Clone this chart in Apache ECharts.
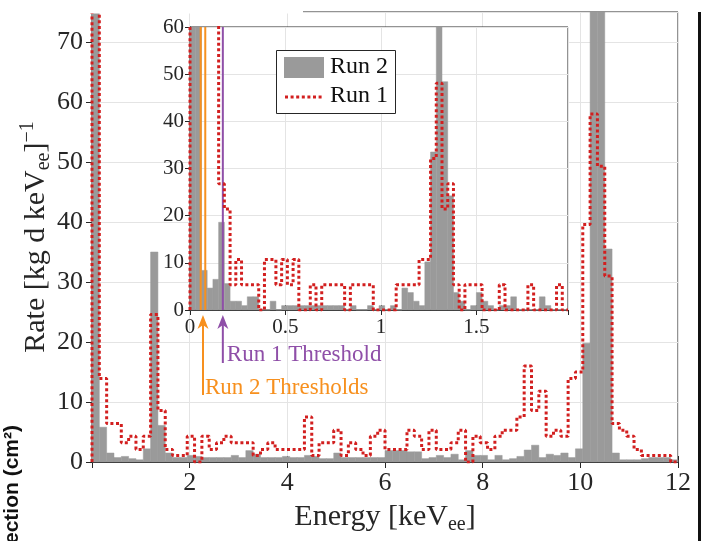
<!DOCTYPE html>
<html><head><meta charset="utf-8">
<script src="https://cdn.jsdelivr.net/npm/echarts@6/dist/echarts.min.js"></script>
<style>html,body{margin:0;padding:0;background:#fff}#c{width:702px;height:541px}</style>
</head><body><div id="c"></div>
<script>
// ---------- data ----------
const mainBinWidth = 0.15;   // keV, main histogram bins (0 .. 12)
const mainRun2 = [
  150, 5.8, 1.5, 0.74, 0.93, 0.56, 0.37, 2.2, 35, 6.1,
  1.5, 0.75, 0.75, 1.1, 0.93, 0.74, 0.74, 0.74, 0.74, 1.1,
  0.74, 1.9, 1.3, 0.74, 0.74, 0.74, 0.93, 0.74, 0.74, 1.1,
  0.93, 0.56, 0.56, 1.5, 0.74, 0.74, 0.74, 0.74, 0.74, 0.74,
  1.9, 1.9, 1.9, 1.7, 1.7, 0.56, 0.74, 1.1, 0.74, 1.3,
  0.37, 1.9, 1.1, 1.1, 0.37, 1.1, 0.37, 0.56, 0.93, 2.0,
  2.8, 0.74, 1.3, 1.1, 1.5, 0.74, 2.2, 19.8, 160, 140,
  35.5, 1.5, 0.37, 0.37, 0.37, 0.56, 0.74, 0.74, 0.74, 0.37
];
const mainRun1 = [
  200, 13.9, 6.4, 6.4, 3.2, 4.3, 2.1, 4.3, 24.6, 8.6,
  2.1, 1.1, 1.1, 4.3, 0, 4.3, 2.1, 3.2, 4.3, 3.2,
  3.2, 3.2, 1.1, 2.1, 3.2, 2.1, 2.1, 2.1, 2.1, 7.5,
  1.1, 3.2, 3.2, 5.3, 1.1, 3.2, 2.1, 1.1, 4.3, 5.3,
  2.1, 2.1, 2.1, 5.3, 4.3, 2.1, 5.3, 2.1, 2.1, 3.2,
  5.3, 0, 4.3, 3.2, 2.1, 4.3, 5.3, 5.3, 7.5, 16.0,
  8.6, 11.8, 4.3, 5.3, 4.3, 13.9, 15.0, 39.6, 58.0, 49.3,
  31.0, 6.4, 5.3, 4.3, 2.1, 1.1, 1.1, 1.1, 1.1, 0
];
const insetBinWidth = 0.03;  // keV, inset histogram bins (0 .. 1.98)
const insetRun2 = [
  150, 120, 8.4, 4.65, 6.5, 18.6, 5.6, 1.86, 1.86, 0.93,
  2.8, 2.8, 0, 0, 1.86, 0, 0.93, 0.93, 0.93, 0.93,
  0.93, 0.93, 0.93, 0.93, 0.93, 0.93, 0.93, 0, 0.93, 0,
  0, 0.93, 0, 0.93, 0, 0.93, 0, 4.65, 3.7, 1.86,
  0.93, 10.2, 33.5, 82, 48.4, 24.2, 3.7, 1.86, 0, 0.93,
  3.7, 1.86, 0.93, 0, 0.93, 0.93, 2.8, 0, 0, 0,
  0, 2.8, 0.93, 0, 0, 0
];
const insetRun1 = [
  90, 90, 90, 90, 90, 26.75, 21.4, 5.35, 10.7, 5.35,
  5.35, 5.35, 0, 10.7, 10.7, 5.35, 10.7, 5.35, 10.7, 0,
  0, 5.35, 0, 5.35, 5.35, 5.35, 5.35, 0, 5.35, 5.35,
  5.35, 5.35, 0, 0, 0, 0, 5.35, 5.35, 5.35, 5.35,
  10.7, 10.7, 32.1, 48.1, 21.4, 26.75, 5.35, 0, 5.35, 5.35,
  5.35, 0, 0, 0, 5.35, 0, 0, 0, 0, 5.35,
  0, 0, 0, 0, 5.35, 0
];
const run2Thresholds = [0.056, 0.080];
const run1Threshold = [0.172];
const legendLabels = ['Run 2', 'Run 1'];
const annotationLabels = ['Run 1 Threshold', 'Run 2 Thresholds'];

// ---------- style ----------
const SERIF = "'Liberation Serif', 'DejaVu Serif', serif";
const AX = '#262626';
const GRID = '#e4e4e4';
const GRAY = '#9a9a9a';
const RED = '#d21f1f';
const ORANGE = '#f7901e';
const PURPLE = '#8f4fa8';

function binRects(vals, w) { return vals.map((v, k) => [k * w, (k + 1) * w, v]); }
function stairs(vals, w) {
  const pts = [[0, 0]];
  vals.forEach((v, k) => { pts.push([k * w, v]); pts.push([(k + 1) * w, v]); });
  pts.push([vals.length * w, 0]);
  return pts;
}
function barItem(params, api) {
  const p0 = api.coord([api.value(0), 0]);
  const p1 = api.coord([api.value(1), api.value(2)]);
  const cs = params.coordSys;
  const r = echarts.graphic.clipRectByRect(
    { x: p0[0], y: p1[1], width: p1[0] - p0[0], height: p0[1] - p1[1] },
    { x: cs.x, y: cs.y, width: cs.width, height: cs.height });
  if (!r) return null;
  return { type: 'rect', shape: r, style: { fill: GRAY, stroke: GRAY, lineWidth: 0.5 } };
}

const chart = echarts.init(document.getElementById('c'), null, { renderer: 'canvas' });

function valAxis(o) {
  return Object.assign({
    type: 'value',
    axisLine: { show: true, lineStyle: { color: AX, width: 1 } },
    axisTick: { show: true, inside: true, length: 6, lineStyle: { color: AX } },
    splitLine: { show: false },
    axisLabel: { show: false }
  }, o);
}

const option = {
  animation: false,
  backgroundColor: '#ffffff',
  grid: [
    { left: 92, top: 12, right: 24, bottom: 79, show: true, borderColor: AX, borderWidth: 1, backgroundColor: 'transparent' },
    { left: 190, top: 27, right: 134, bottom: 231, show: true, borderColor: AX, borderWidth: 1, backgroundColor: '#ffffff', z: 10 }
  ],
  xAxis: [
    valAxis({ gridIndex: 0, min: 0, max: 12, interval: 2, position: 'bottom',
      splitLine: { show: true, lineStyle: { color: GRID } },
      axisLabel: { show: true, showMinLabel: false, fontFamily: SERIF, fontSize: 26, color: AX, margin: 8 },
      name: '{t|Energy [keV}{s|ee}{t|]}', nameLocation: 'middle', nameGap: 37,
      nameTextStyle: { color: AX, fontFamily: SERIF, fontSize: 30,
        rich: { t: { fontFamily: SERIF, fontSize: 30, lineHeight: 36, color: AX },
                s: { fontFamily: SERIF, fontSize: 20, lineHeight: 20, verticalAlign: 'bottom', color: AX } } } }),
    valAxis({ gridIndex: 0, min: 0, max: 12, interval: 2, position: 'top' }),
    valAxis({ gridIndex: 1, min: 0, max: 1.98, interval: 0.5, position: 'bottom', z: 11,
      axisTick: { show: true, inside: true, length: 5, lineStyle: { color: AX } },
      splitLine: { show: true, lineStyle: { color: GRID } },
      axisLabel: { show: true, showMaxLabel: false, fontFamily: SERIF, fontSize: 21, color: AX, margin: 7 } }),
    valAxis({ gridIndex: 1, min: 0, max: 1.98, interval: 0.5, position: 'top', z: 11,
      axisTick: { show: true, inside: true, length: 5, lineStyle: { color: AX } } })
  ],
  yAxis: [
    valAxis({ gridIndex: 0, min: 0, max: 75, interval: 10, position: 'left',
      splitLine: { show: true, lineStyle: { color: GRID } },
      axisLabel: { show: true, showMaxLabel: false, fontFamily: SERIF, fontSize: 26, color: AX, margin: 9 },
      name: '{t|Rate [kg d keV}{s|ee}{t|]}{p|\u22121}', nameLocation: 'middle', nameGap: 38,
      nameMoveOverlap: false,
      nameTextStyle: { color: AX, fontFamily: SERIF, fontSize: 30,
        rich: { t: { fontFamily: SERIF, fontSize: 30, lineHeight: 36, color: AX },
                s: { fontFamily: SERIF, fontSize: 20, lineHeight: 20, verticalAlign: 'bottom', color: AX },
                p: { fontFamily: SERIF, fontSize: 20, lineHeight: 20, verticalAlign: 'top', color: AX } } } }),
    valAxis({ gridIndex: 0, min: 0, max: 75, interval: 10, position: 'right' }),
    valAxis({ gridIndex: 1, min: 0, max: 60, interval: 10, position: 'left', z: 11,
      axisTick: { show: true, inside: true, length: 5, lineStyle: { color: AX } },
      splitLine: { show: true, lineStyle: { color: GRID } },
      axisLabel: { show: true, fontFamily: SERIF, fontSize: 21, color: AX, margin: 6 } }),
    valAxis({ gridIndex: 1, min: 0, max: 60, interval: 10, position: 'right', z: 11,
      axisTick: { show: true, inside: true, length: 5, lineStyle: { color: AX } } })
  ],
  series: [
    { type: 'custom', name: 'Run 2', xAxisIndex: 0, yAxisIndex: 0, z: 2,
      renderItem: barItem, encode: { x: [0, 1], y: 2 }, data: binRects(mainRun2, mainBinWidth) },
    { type: 'line', name: 'Run 1', xAxisIndex: 0, yAxisIndex: 0, z: 3, clip: true,
      showSymbol: false, symbol: 'none',
      lineStyle: { color: RED, width: 3, type: [3, 2.6], cap: 'butt' },
      data: stairs(mainRun1, mainBinWidth) },
    { type: 'custom', name: 'Run 2 inset', xAxisIndex: 2, yAxisIndex: 2, z: 12,
      renderItem: barItem, encode: { x: [0, 1], y: 2 }, data: binRects(insetRun2, insetBinWidth) },
    { type: 'custom', name: 'thresholds', xAxisIndex: 2, yAxisIndex: 2, z: 13,
      data: run2Thresholds.map(v => [v, 0]).concat(run1Threshold.map(v => [v, 1])),
      encode: { x: 0 },
      renderItem: function (params, api) {
        const cs = params.coordSys;
        const x = api.coord([api.value(0), 0])[0];
        return { type: 'line', shape: { x1: x, y1: cs.y + cs.height, x2: x, y2: cs.y },
          style: { stroke: api.value(1) === 1 ? PURPLE : ORANGE, lineWidth: 2 } };
      } },
    { type: 'line', name: 'Run 1 inset', xAxisIndex: 2, yAxisIndex: 2, z: 14, clip: true,
      showSymbol: false, symbol: 'none',
      lineStyle: { color: RED, width: 3, type: [3, 2.6], cap: 'butt' },
      data: stairs(insetRun1, insetBinWidth) }
  ]
};
chart.setOption(option);

// annotations placed from the inset's own x scale
const px = v => chart.convertToPixel({ xAxisIndex: 2 }, v);
const xo = (px(run2Thresholds[0]) + px(run2Thresholds[1])) / 2;
const xp = px(run1Threshold[0]);
function arrow(x, yBottom, color) {
  const tip = 315;
  return [
    { type: 'line', z: 40, shape: { x1: x, y1: yBottom, x2: x, y2: tip + 9 }, style: { stroke: color, lineWidth: 2 } },
    { type: 'polygon', z: 40, shape: { points: [[x, tip], [x - 5.5, tip + 14], [x, tip + 10], [x + 5.5, tip + 14]] }, style: { fill: color } }
  ];
}
chart.setOption({
  graphic: [
    // the reference frame's top edge is cropped on the left part
    { type: 'rect', z: 39, shape: { x: 86, y: 0, width: 217, height: 13.6 }, style: { fill: '#fff' } },
    // legend
    { type: 'rect', z: 40, shape: { x: 276.5, y: 50.5, width: 119, height: 63 }, style: { fill: '#fff', stroke: AX, lineWidth: 1 } },
    { type: 'rect', z: 41, shape: { x: 284, y: 57, width: 40, height: 21 }, style: { fill: GRAY } },
    { type: 'text', z: 41, x: 330, y: 67, style: { text: legendLabels[0], font: '24px ' + SERIF, fill: '#111', verticalAlign: 'middle' } },
    { type: 'line', z: 41, shape: { x1: 285, y1: 97, x2: 324, y2: 97 }, style: { stroke: RED, lineWidth: 3, lineDash: [3, 2.6] } },
    { type: 'text', z: 41, x: 330, y: 96, style: { text: legendLabels[1], font: '24px ' + SERIF, fill: '#111', verticalAlign: 'middle' } },
    // arrows + labels
    ...arrow(xo, 395, ORANGE),
    ...arrow(xp, 363, PURPLE),
    { type: 'text', z: 41, x: xp + 4, y: 355, style: { text: annotationLabels[0], font: '23px ' + SERIF, fill: PURPLE, verticalAlign: 'middle' } },
    { type: 'text', z: 41, x: xo + 2, y: 388, style: { text: annotationLabels[1], font: '23px ' + SERIF, fill: ORANGE, verticalAlign: 'middle' } },
    // neighbouring panel remnants
    { type: 'text', z: 41, x: 12, y: 425, rotation: Math.PI / 2,
      style: { text: 'ection (cm\u00b2)', font: 'bold 21px "Liberation Sans", Arial, sans-serif', fill: '#111', align: 'right', verticalAlign: 'middle' } },
    { type: 'rect', z: 41, shape: { x: 698, y: 12, width: 3, height: 529 }, style: { fill: '#111' } }
  ]
});
</script>
</body></html>
